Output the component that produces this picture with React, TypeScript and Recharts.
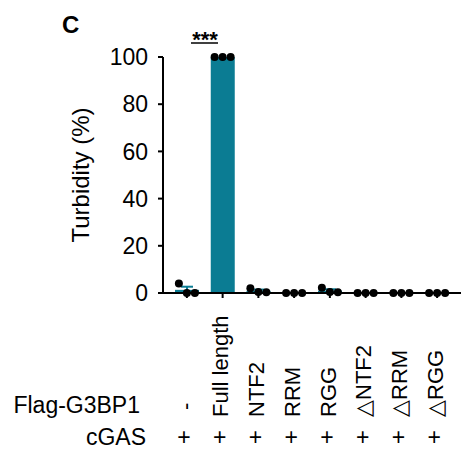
import React from "react";
import {
  Bar,
  ComposedChart,
  ErrorBar,
  Scatter,
  XAxis,
  YAxis,
} from "recharts";

document.body.style.margin = "0";

const groups = ["-", "Full length", "NTF2", "RRM", "RGG", "\u25B3NTF2", "\u25B3RRM", "\u25B3RGG"];
const rep1 = [4, 100, 2, 0, 2.2, 0, 0, 0];
const rep2 = [0, 100, 0.4, 0, 0.4, 0, 0, 0];
const rep3 = [0, 100, 0.3, 0, 0.3, 0, 0, 0];
const cgas = ["+", "+", "+", "+", "+", "+", "+", "+"];
const yTicks = [0, 20, 40, 60, 80, 100];

const TEAL = "#0b7c93";
const FONT = "'Liberation Sans', Arial, sans-serif";

const data = groups.map((g, i) => {
  const vals = [rep1[i], rep2[i], rep3[i]];
  const mean = (vals[0] + vals[1] + vals[2]) / 3;
  const sd = Math.sqrt(vals.reduce((s, v) => s + (v - mean) ** 2, 0) / 2);
  return {
    group: g,
    mean,
    sem: sd / Math.sqrt(3),
    r1: vals[0],
    r2: vals[1],
    r3: vals[2],
    cgas: cgas[i],
  };
});

const dot = (offset: number) => (props: any) => (
  <circle cx={props.cx + offset} cy={props.cy} r={4} fill="#000" />
);

const GroupTick = (props: any) => {
  const { x, payload, index } = props;
  const label = payload.value as string;
  const baseY = label === "-" ? 410 : 417;
  return (
    <g>
      <text
        transform={`translate(${x - 2},${baseY}) rotate(-90)`}
        textAnchor="start"
        dy="0.35em"
        fontSize={22}
        fontFamily={FONT}
        fill="#000"
      >
        {label}
      </text>
      <text
        x={x - 3}
        y={445}
        textAnchor="middle"
        fontSize={23}
        fontFamily={FONT}
        fill="#000"
      >
        {data[index]?.cgas}
      </text>
    </g>
  );
};

export default function App() {
  return (
    <div style={{ position: "relative", width: 461, height: 462, background: "#fff" }}>
      <ComposedChart
        width={461}
        height={462}
        data={data}
        margin={{ top: 57, right: 0, bottom: 0, left: 0 }}
      >
        <XAxis
          dataKey="group"
          height={169}
          padding={{ left: 6, right: 6 }}
          stroke="#000"
          strokeWidth={2}
          tickSize={5}
          interval={0}
          tick={<GroupTick />}
        />
        <YAxis
          width={163}
          domain={[0, 100]}
          ticks={yTicks}
          stroke="#000"
          strokeWidth={2}
          tickSize={5}
          tickMargin={10}
          tick={{ fontSize: 23, fontFamily: FONT, fill: "#000" }}
          label={{
            value: "Turbidity (%)",
            angle: -90,
            position: "insideLeft",
            offset: 80,
            style: { fontSize: 24, fontFamily: FONT, fill: "#000", textAnchor: "middle" },
          }}
        />
        <Bar dataKey="mean" fill={TEAL} barSize={24} isAnimationActive={false}>
          <ErrorBar dataKey="sem" width={6} stroke={TEAL} strokeWidth={2} direction="y" />
        </Bar>
        <Scatter dataKey="r1" shape={dot(-8)} isAnimationActive={false} />
        <Scatter dataKey="r2" shape={dot(0)} isAnimationActive={false} />
        <Scatter dataKey="r3" shape={dot(8)} isAnimationActive={false} />
      </ComposedChart>
      <svg
        width={461}
        height={462}
        style={{ position: "absolute", left: 0, top: 0, pointerEvents: "none" }}
      >
        <text x={62} y={33} fontSize={24} fontWeight="bold" fontFamily={FONT} fill="#000">
          C
        </text>
        <text x={205} y={47} textAnchor="middle" fontSize={22} fontWeight="bold" fontFamily={FONT} fill="#000">
          ***
        </text>
        <line x1={191} x2={218} y1={43} y2={43} stroke="#000" strokeWidth={1.5} />
        <text x={140} y={413} textAnchor="end" fontSize={23} fontFamily={FONT} fill="#000">
          Flag-G3BP1
        </text>
        <text x={146} y={445} textAnchor="end" fontSize={23} fontFamily={FONT} fill="#000">
          cGAS
        </text>
      </svg>
    </div>
  );
}
